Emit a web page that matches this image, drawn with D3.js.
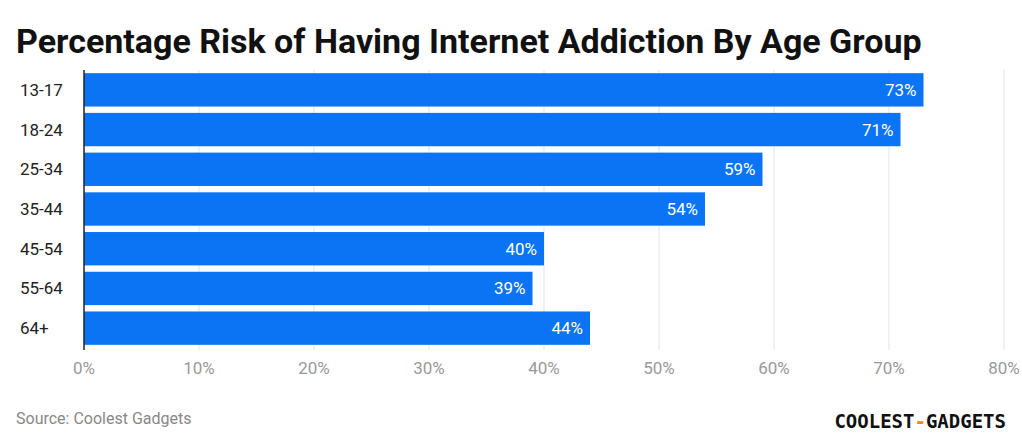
<!DOCTYPE html><html><head><meta charset="utf-8"><script src="https://cdn.jsdelivr.net/npm/d3@7"></script>
<style>body{margin:0;background:#fff}</style></head><body><svg id="c" width="1022" height="446"></svg><script>
const categories=["13-17","18-24","25-34","35-44","45-54","55-64","64+"];
const values=[73,71,59,54,40,39,44];
const ticks=[0,10,20,30,40,50,60,70,80];
const svg=d3.select("#c");
const x=d3.scaleLinear().domain([0,80]).range([84,1004]);
const y=d3.scaleBand().domain(categories).range([70,348]).paddingInner(0.16).paddingOuter(0.08);
svg.append("text").attr("x",16).attr("y",53).attr("font-family","Roboto").attr("font-weight","bold").attr("font-size",34).attr("fill","#111").text("Percentage Risk of Having Internet Addiction By Age Group");
svg.selectAll(".g").data(ticks.slice(1)).join("line").attr("x1",d=>x(d)).attr("x2",d=>x(d)).attr("y1",70).attr("y2",350).attr("stroke","#e3e3e3");
svg.selectAll(".b").data(values).join("rect").attr("x",x(0)).attr("y",(d,i)=>y(categories[i])).attr("width",d=>x(d)-x(0)).attr("height",y.bandwidth()).attr("fill","#0a74f5");
svg.selectAll(".v").data(values).join("text").attr("x",d=>x(d)-7).attr("y",(d,i)=>y(categories[i])+y.bandwidth()/2+6).attr("text-anchor","end").attr("font-family","Roboto").attr("font-size",17).attr("fill","#fff").text(d=>d+"%");
svg.selectAll(".c").data(categories).join("text").attr("x",20).attr("y",d=>y(d)+y.bandwidth()/2+6).attr("font-family","Roboto").attr("font-size",17).attr("fill","#222").text(d=>d);
svg.append("line").attr("x1",x(0)).attr("x2",x(0)).attr("y1",70).attr("y2",350).attr("stroke","#222").attr("stroke-width",1.5);
svg.selectAll(".t").data(ticks).join("text").attr("x",d=>x(d)).attr("y",374).attr("text-anchor","middle").attr("font-family","Roboto").attr("font-size",17).attr("fill","#999").text(d=>d+"%");
svg.append("text").attr("x",16).attr("y",424).attr("font-family","Roboto").attr("font-size",16).attr("fill","#888").text("Source: Coolest Gadgets");
const lg=svg.append("text").attr("x",1006).attr("y",428).attr("text-anchor","end").attr("font-family","DejaVu Sans Mono").attr("font-weight","bold").attr("font-size",19).attr("fill","#111");
lg.append("tspan").text("COOLEST");lg.append("tspan").attr("fill","#f58220").text("-");lg.append("tspan").text("GADGETS");
</script></body></html>
